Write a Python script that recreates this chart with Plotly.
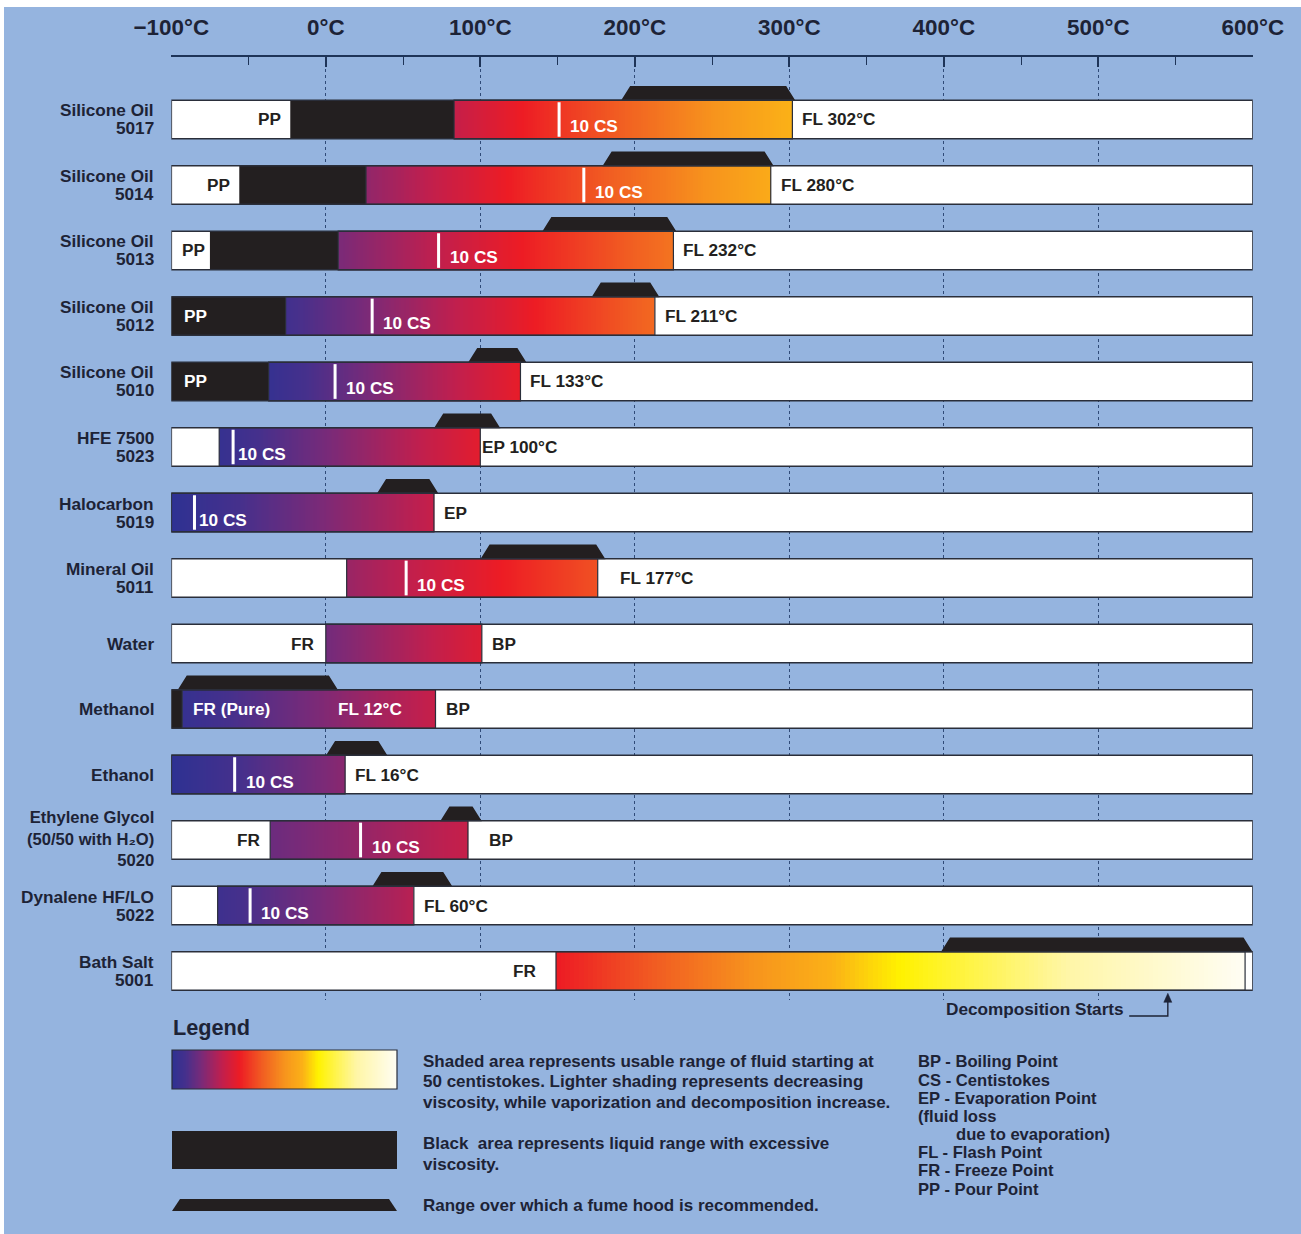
import numpy as np
import plotly.graph_objects as go

# ---------------- data (°C) ----------------
fluids = ["Silicone Oil<br>5017", "Silicone Oil<br>5014", "Silicone Oil<br>5013", "Silicone Oil<br>5012",
          "Silicone Oil<br>5010", "HFE 7500<br>5023", "Halocarbon<br>5019", "Mineral Oil<br>5011", "Water",
          "Methanol", "Ethanol", "Ethylene Glycol<br>(50/50 with H₂O)<br>5020",
          "Dynalene HF/LO<br>5022", "Bath Salt<br>5001"]
viscous_from = [-23, -56, -75, -100, -100, None, None, None, None, -100, None, None, None, None]
viscous_to = [83, 26, 8, -26, -37, None, None, None, None, -93, None, None, None, None]
usable_from = [83, 26, 8, -26, -37, -69, -100, 13.5, 0, -93, -100, -36, -70, 149]
usable_to = [302, 288, 225, 213, 126, 100, 70, 176, 101, 71, 12.5, 92, 57, 595]
cs10_temp = [151, 167, 73, 30, 6, -60, -85, 52, None, None, -59, 22.5, -49, None]
hood_from = [191, 179, 140, 172, 92, 70, 33, 100, None, -96, 0, 74, 30, 398]
hood_to = [304, 290, 227, 216, 130, 113, 73, 181, None, 8, 40, 101, 82, 600]
low_label = ["PP", "PP", "PP", "PP", "PP", "", "", "", "FR", "", "", "FR", "", "FR"]
high_label = ["FL 302°C", "FL 280°C", "FL 232°C", "FL 211°C", "FL 133°C", "EP 100°C", "EP", "FL 177°C",
              "BP", "BP", "FL 16°C", "BP", "FL 60°C", ""]
inner_labels = [(9, "FR (Pure)", -87), (9, "FL 12°C", 6.5)]
decomposition_start = 545
axis_ticks = [-100, 0, 100, 200, 300, 400, 500, 600]
axis_tick_text = ["−100°C", "0°C", "100°C", "200°C", "300°C", "400°C", "500°C", "600°C"]

legend_shaded = ["Shaded area represents usable range of fluid starting at",
                 "50 centistokes. Lighter shading represents decreasing",
                 "viscosity, while vaporization and decomposition increase."]
legend_black = ["Black\u00a0 area represents liquid range with excessive", "viscosity."]
legend_hood = ["Range over which a fume hood is recommended."]
abbreviations = ["BP - Boiling Point", "CS - Centistokes", "EP - Evaporation Point", "(fluid loss",
                 "due to evaporation)", "FL - Flash Point", "FR - Freeze Point", "PP - Pour Point"]

# ---------------- style ----------------
W, H = 1301, 1234
BG = "#95b4df"
INK = "#1d2336"
BLACK = "#231f20"
EDGE = "#2a2e3a"
AXIS = "#1e3458"
GRID = "#2f4a78"
FONT = "Liberation Sans, Arial, sans-serif"
FS = 17.2
BAR_H = 0.59
HOOD_H = 0.215
HOOD_SLANT = 6
ROW0_PX, PX_PER_ROW = 119.5, 65.5
PLOT_TOP_PX, PLOT_BOT_PX = 57, 1000
X_LEFT_PX, X_RIGHT_PX = 171.3, 1252.8
shade_from = [0.23, 0.16, 0.13, 0.05, 0.02, 0.02, 0.0, 0.17, 0.12, 0.02, 0.0, 0.11, 0.04, 0.30]
shade_to = [0.58, 0.56, 0.44, 0.42, 0.29, 0.28, 0.23, 0.38, 0.27, 0.23, 0.15, 0.23, 0.21, 1.0]
colorscale = [[0.0, "#2e3192"], [0.06, "#46308c"], [0.13, "#7a2a78"], [0.22, "#c01f4e"],
              [0.30, "#ed1c24"], [0.40, "#f15d22"], [0.50, "#f7941d"], [0.58, "#fbb117"],
              [0.65, "#fff200"], [0.82, "#fff6a6"], [1.0, "#fffdf3"]]


def py(px):
    return 1 - px / H


def px_(x):
    return x / W


rows = list(range(len(fluids)))
fig = go.Figure()

# gradient (usable range)
for i in rows:
    nseg = 150
    xe = np.linspace(usable_from[i], usable_to[i], nseg + 1)
    z = [np.linspace(shade_from[i], shade_to[i], nseg)]
    fig.add_trace(go.Heatmap(x=xe, y=[i - BAR_H / 2, i + BAR_H / 2], z=z, colorscale=colorscale,
                             zmin=0, zmax=1, showscale=False, hoverinfo="skip"))

# black (excessive viscosity)
vi = [i for i in rows if viscous_from[i] is not None]
fig.add_trace(go.Bar(orientation="h", y=vi, base=[viscous_from[i] for i in vi],
                     x=[viscous_to[i] - viscous_from[i] for i in vi], width=BAR_H,
                     marker=dict(color=BLACK, line=dict(width=0)), hoverinfo="skip"))

# fume hood trapezoids
hx, hy = [], []
for i in rows:
    if hood_from[i] is None:
        continue
    base = i - BAR_H / 2 + 0.01
    top = i - BAR_H / 2 - HOOD_H
    hx += [hood_from[i], hood_from[i] + HOOD_SLANT, hood_to[i] - HOOD_SLANT, hood_to[i], None]
    hy += [base, top, top, base, None]
fig.add_trace(go.Scatter(x=hx, y=hy, mode="lines", fill="toself", fillcolor=BLACK,
                         line=dict(width=0, color=BLACK), hoverinfo="skip"))

# legend gradient swatch
lx = np.linspace(0, 1, 301)
fig.add_trace(go.Heatmap(x=lx, y=[0, 1], z=[np.linspace(0, 1, 300)], colorscale=colorscale, zmin=0,
                         zmax=1, showscale=False, hoverinfo="skip", xaxis="x2", yaxis="y2"))

shapes = []
annotations = []

# outer white strips
shapes.append(dict(type="rect", xref="paper", yref="paper", x0=0, x1=1, y0=py(7), y1=1,
                   fillcolor="white", line=dict(width=0), layer="below"))
shapes.append(dict(type="rect", xref="paper", yref="paper", x0=0, x1=px_(4), y0=0, y1=1,
                   fillcolor="white", line=dict(width=0), layer="below"))

for i in rows:
    y0, y1 = i - BAR_H / 2, i + BAR_H / 2
    shapes.append(dict(type="rect", xref="x", yref="y", x0=-100, x1=600, y0=y0, y1=y1,
                       fillcolor="white", line=dict(width=0), layer="between"))
    shapes.append(dict(type="rect", xref="x", yref="y", x0=usable_from[i], x1=usable_to[i], y0=y0, y1=y1,
                       fillcolor="rgba(0,0,0,0)", line=dict(color=EDGE, width=1.2), layer="above"))
    shapes.append(dict(type="rect", xref="x", yref="y", x0=-100, x1=600, y0=y0, y1=y1,
                       fillcolor="rgba(0,0,0,0)", line=dict(color=EDGE, width=1.6), layer="above"))
    if cs10_temp[i] is not None:
        shapes.append(dict(type="line", xref="x", yref="y", x0=cs10_temp[i], x1=cs10_temp[i],
                           y0=y0 + 0.03, y1=y1 - 0.03, line=dict(color="white", width=3), layer="above"))

    # row name
    parts = fluids[i].split("<br>")
    n = len(parts)
    if n >= 3:
        annotations.append(dict(xref="paper", yref="y", x=px_(156), y=i, xanchor="right", yanchor="middle",
                                align="right", yshift=1, showarrow=False, text="<b>%s</b>" % fluids[i],
                                font=dict(family=FONT, size=FS - 0.6, color=INK)))
    else:
        for k, p in enumerate(parts):
            annotations.append(dict(xref="paper", yref="y", x=px_(156), y=i, xanchor="right", yanchor="middle",
                                    yshift=(n - 1) * 9 - k * 18, showarrow=False,
                                    text="<b>%s</b>" % p, font=dict(family=FONT, size=FS, color=INK)))

    # low-end label (pour / freeze point)
    if low_label[i]:
        vf = viscous_from[i]
        if vf is not None and vf <= -100:
            annotations.append(dict(xref="x", yref="y", x=-100, y=i, xanchor="left", xshift=11,
                                    showarrow=False, text="<b>%s</b>" % low_label[i],
                                    font=dict(family=FONT, size=FS, color="white")))
        else:
            at = vf if vf is not None else usable_from[i]
            gap = {2: 3, 8: 10, 11: 8, 13: 18}.get(i, 7)
            annotations.append(dict(xref="x", yref="y", x=at, y=i, xanchor="right", xshift=-gap,
                                    showarrow=False, text="<b>%s</b>" % low_label[i],
                                    font=dict(family=FONT, size=FS, color=BLACK)))
    # high-end label
    if high_label[i]:
        gap = {5: 0, 7: 20, 11: 19}.get(i, 8)
        annotations.append(dict(xref="x", yref="y", x=usable_to[i], y=i, xanchor="left", xshift=gap,
                                showarrow=False, text="<b>%s</b>" % high_label[i],
                                font=dict(family=FONT, size=FS, color=BLACK)))
    # 10 CS label
    if cs10_temp[i] is not None:
        gap = 3 if i in (5, 6) else 9
        annotations.append(dict(xref="x", yref="y", x=cs10_temp[i], y=i, xanchor="left", xshift=gap,
                                yshift=-7, showarrow=False, text="<b>10 CS</b>",
                                font=dict(family=FONT, size=FS, color="white")))

for r, t, at in inner_labels:
    annotations.append(dict(xref="x", yref="y", x=at, y=r, xanchor="left", showarrow=False,
                            text="<b>%s</b>" % t, font=dict(family=FONT, size=FS, color="white")))

# decomposition marker: L-shaped leader with arrow head
bath = rows[-1]
tip_px = ROW0_PX + PX_PER_ROW * (bath + BAR_H / 2) + 3
shapes.append(dict(type="path", xref="x", yref="paper",
                   path="M %f %f L %f %f L %f %f" % (decomposition_start - 25, py(1016), decomposition_start,
                                                     py(1016), decomposition_start, py(tip_px + 7)),
                   line=dict(color=INK, width=1.4)))
shapes.append(dict(type="path", xref="x", yref="paper",
                   path="M %f %f L %f %f L %f %f Z" % (decomposition_start - 2.6, py(tip_px + 9),
                                                       decomposition_start, py(tip_px),
                                                       decomposition_start + 2.6, py(tip_px + 9)),
                   fillcolor=INK, line=dict(color=INK, width=0.5)))
annotations.append(dict(xref="x", yref="paper", x=decomposition_start - 27, y=py(1009), xanchor="right",
                        yanchor="middle", showarrow=False, text="<b>Decomposition Starts</b>",
                        font=dict(family=FONT, size=FS, color=INK)))

# legend block
annotations.append(dict(xref="paper", yref="paper", x=px_(171), y=py(1027), xanchor="left", yanchor="middle",
                        showarrow=False, text="<b>Legend</b>", font=dict(family=FONT, size=21.7, color=INK)))
shapes.append(dict(type="rect", xref="paper", yref="paper", x0=px_(172), x1=px_(397), y0=py(1089), y1=py(1050),
                   fillcolor="rgba(0,0,0,0)", line=dict(color=EDGE, width=1.2), layer="above"))
shapes.append(dict(type="rect", xref="paper", yref="paper", x0=px_(172), x1=px_(397), y0=py(1169), y1=py(1131),
                   fillcolor=BLACK, line=dict(width=0)))
shapes.append(dict(type="path", xref="paper", yref="paper",
                   path="M %f %f L %f %f L %f %f L %f %f Z" % (px_(172), py(1211), px_(180), py(1199),
                                                               px_(389), py(1199), px_(397), py(1211)),
                   fillcolor=BLACK, line=dict(width=0)))
for lines, ys in ((legend_shaded, [1061, 1081, 1102]), (legend_black, [1143, 1164]), (legend_hood, [1205])):
    for t, yy in zip(lines, ys):
        annotations.append(dict(xref="paper", yref="paper", x=px_(421), y=py(yy), xanchor="left",
                                yanchor="middle", showarrow=False, text="<b>%s</b>" % t,
                                font=dict(family=FONT, size=17, color=INK)))
abbr_y = [1061, 1080, 1098, 1116, 1134, 1152, 1170, 1189]
for t, yy in zip(abbreviations, abbr_y):
    xx = 954 if t.startswith("due") else 916
    annotations.append(dict(xref="paper", yref="paper", x=px_(xx), y=py(yy), xanchor="left",
                            yanchor="middle", showarrow=False, text="<b>%s</b>" % t,
                            font=dict(family=FONT, size=16.6, color=INK)))

fig.update_layout(
    width=W, height=H, margin=dict(l=0, r=0, t=0, b=0, pad=0, autoexpand=False),
    paper_bgcolor=BG, plot_bgcolor=BG, showlegend=False, barmode="overlay",
    xaxis=dict(domain=[px_(X_LEFT_PX), px_(X_RIGHT_PX)], range=[-100, 600], side="top",
               showline=True, linecolor=AXIS, linewidth=2, ticks="inside", ticklen=10, tickwidth=1.5,
               tickcolor=AXIS, tickvals=axis_ticks, ticktext=axis_tick_text, automargin=False,
               tickfont=dict(family=FONT, size=22.4, color=INK, weight="bold"), ticklabelstandoff=11,
               showgrid=True, gridcolor=GRID, griddash="dot", gridwidth=1, zeroline=False,
               minor=dict(dtick=50, tick0=0, ticks="inside", ticklen=8, tickwidth=1.3, tickcolor=AXIS,
                          showgrid=False),
               fixedrange=True),
    yaxis=dict(domain=[py(PLOT_BOT_PX), py(PLOT_TOP_PX)], automargin=False,
               range=[(PLOT_BOT_PX - ROW0_PX) / PX_PER_ROW, (PLOT_TOP_PX - ROW0_PX) / PX_PER_ROW],
               visible=False, fixedrange=True),
    xaxis2=dict(domain=[px_(172), px_(397)], range=[0, 1], visible=False, anchor="y2", fixedrange=True),
    yaxis2=dict(domain=[py(1089), py(1050)], range=[0, 1], visible=False, anchor="x2", fixedrange=True),
    shapes=shapes, annotations=annotations,
)

fig.write_html("out.html", config={"responsive": False, "displayModeBar": False})
